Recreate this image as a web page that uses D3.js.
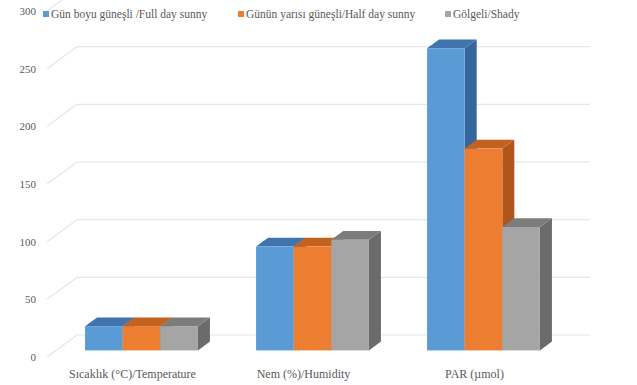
<!DOCTYPE html>
<html><head><meta charset="utf-8">
<script src="https://cdn.jsdelivr.net/npm/d3@7"></script>
<style>body{margin:0;background:#fff}svg{display:block}text{font-family:'Liberation Serif','DejaVu Serif','Times New Roman',serif}</style>
</head><body>
<script>
const categories = ["Sıcaklık (°C)/Temperature", "Nem (%)/Humidity", "PAR (µmol)"];
const seriesNames = ["Gün boyu güneşli /Full day sunny", "Günün yarısı güneşli/Half day sunny", "Gölgeli/Shady"];
const fullDay = [21, 90, 262];
const halfDay = [21, 90, 175];
const shady = [21, 96, 107];
const yTicks = [0, 50, 100, 150, 200, 250, 300];

const W = 637, H = 385;
const DX = 30, DY = -22;          // depth offset of back wall
const F0 = 0.3, F1 = 0.7;         // bar depth range (fraction)
const colors = [
  {front:"#5B9BD5", top:"#3F74AE", side:"#36679C"},
  {front:"#ED7D31", top:"#C3621F", side:"#B0561A"},
  {front:"#A5A5A5", top:"#7C7C7C", side:"#6B6B6B"}
];
const series = [fullDay, halfDay, shady];

const svg = d3.select("body").append("svg").attr("width", W).attr("height", H);

const y = d3.scaleLinear().domain([0, 300]).range([357, 11]);
const x0 = d3.scaleBand().domain(categories).range([47, 560]).paddingInner(0.34).paddingOuter(0.17);
const x1 = d3.scaleBand().domain(d3.range(3)).range([0, x0.bandwidth()]);

// gridlines: side wall diagonal + back wall horizontal
const g = svg.append("g");
yTicks.forEach(t => {
  const yy = y(t);
  g.append("line").attr("x1", 47).attr("y1", yy).attr("x2", 47 + DX).attr("y2", yy + DY)
    .attr("stroke", "#e6e6e6").attr("stroke-width", 1.2);
  g.append("line").attr("x1", 47 + DX).attr("y1", yy + DY).attr("x2", 560 + DX).attr("y2", yy + DY)
    .attr("stroke", "#e6e6e6").attr("stroke-width", 1.2);
});

// y tick labels
svg.append("g").selectAll("text").data(yTicks).join("text")
  .attr("x", 36).attr("y", d => y(d)).attr("dy", "0.35em")
  .attr("text-anchor", "end")
  .attr("font-size", 11).attr("fill", "#595959")
  .text(d => d);

const fx0 = F0 * DX, fy0 = F0 * DY, fx1 = F1 * DX, fy1 = F1 * DY;
const ddx = fx1 - fx0, ddy = fy1 - fy0;
const bars = svg.append("g");
categories.forEach((c, ci) => {
  series.forEach((s, si) => {
    const v = s[ci];
    const xl = x0(c) + x1(si) + fx0;
    const xr = xl + x1.bandwidth();
    const yb = y(0) + fy0;
    const yt = y(v) + fy0;
    const col = colors[si];
    bars.append("path").attr("d", `M${xr},${yt}L${xr+ddx},${yt+ddy}L${xr+ddx},${yb+ddy}L${xr},${yb}Z`)
      .attr("fill", col.side);
    bars.append("path").attr("d", `M${xl},${yt}L${xl+ddx},${yt+ddy}L${xr+ddx},${yt+ddy}L${xr},${yt}Z`)
      .attr("fill", col.top);
    bars.append("rect").attr("x", xl).attr("y", yt).attr("width", xr - xl).attr("height", yb - yt)
      .attr("fill", col.front);
  });
});

// category labels
svg.append("g").selectAll("text").data(categories).join("text")
  .attr("x", d => x0(d) + x0.bandwidth() / 2).attr("y", 374).attr("dy", "0.35em")
  .attr("text-anchor", "middle")
  .attr("font-size", 12).attr("fill", "#595959")
  .text(d => d);

// legend
const legendX = [43, 238, 445];
const lg = svg.append("g");
seriesNames.forEach((n, i) => {
  lg.append("rect").attr("x", legendX[i]).attr("y", 11).attr("width", 6).attr("height", 6).attr("fill", colors[i].front);
  lg.append("text").attr("x", legendX[i] + 8).attr("y", 14).attr("dy", "0.35em")
    .attr("font-size", 11.5).attr("fill", "#595959")
    .text(n);
});
</script>
</body></html>
